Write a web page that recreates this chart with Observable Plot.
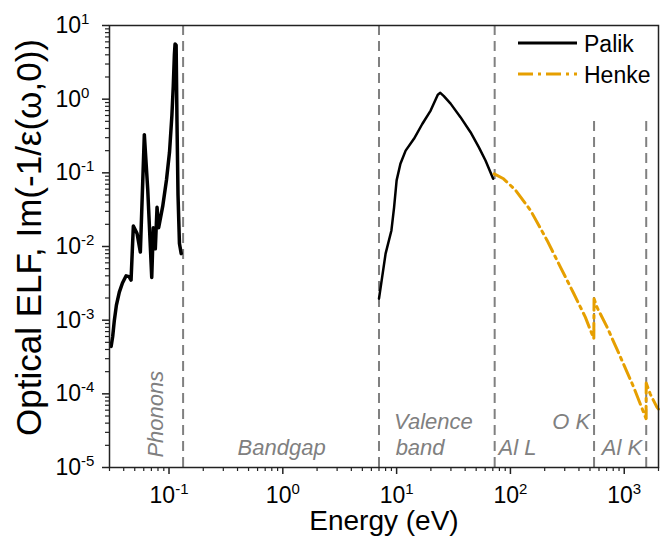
<!DOCTYPE html>
<html><head><meta charset="utf-8">
<script src="https://cdn.jsdelivr.net/npm/d3@7"></script>
<script src="https://cdn.jsdelivr.net/npm/@observablehq/plot@0.6"></script>
<style>
body{margin:0;background:#fff;}
#wrap{position:relative;width:663px;height:537px;}
#legend{position:absolute;left:0;top:0;pointer-events:none;}
</style></head><body>
<div id="wrap"></div>
<script>
// ---- data ----
const phononE = [0.031, 0.032, 0.0331, 0.0345, 0.0366, 0.039, 0.042, 0.0445, 0.0464, 0.0486, 0.0524, 0.056, 0.0607, 0.065, 0.0705, 0.0728, 0.0758, 0.0785, 0.0811, 0.088, 0.095, 0.101, 0.106, 0.109, 0.1115, 0.113, 0.1155, 0.1175, 0.120, 0.1235, 0.128];
const phononV = [4.4e-4, 6e-4, 1.0e-3, 1.6e-3, 2.4e-3, 3.2e-3, 4.0e-3, 3.9e-3, 3.5e-3, 0.019, 0.015, 8.4e-3, 0.33, 0.06, 3.8e-3, 0.018, 9.3e-3, 0.034, 0.018, 0.035, 0.08, 0.19, 0.6, 1.5, 4.0, 5.6, 5.4, 0.5, 0.05, 0.011, 8e-3];

const valenceE = [7.0, 8.0, 9.0, 9.5, 10, 10.8, 12, 14.2, 16.8, 19.9, 23, 24.2, 26, 29.8, 36.4, 44.6, 52.7, 60.4, 70.5];
const valenceV = [1.96e-3, 8e-3, 0.0165, 0.034, 0.079, 0.133, 0.2, 0.29, 0.46, 0.70, 1.15, 1.22, 1.1, 0.87, 0.57, 0.356, 0.223, 0.147, 0.083];

const henkeE = [72, 87, 110, 150, 210, 275, 360, 455, 540, 543, 576, 705, 923, 1208, 1555, 1560, 1690, 1936, 2000];
const henkeV = [0.097, 0.083, 0.059, 0.031, 0.0121, 5.25e-3, 2.3e-3, 1.1e-3, 5.6e-4, 1.96e-3, 1.5e-3, 8.1e-4, 3.2e-4, 1.24e-4, 4.6e-5, 1.4e-4, 1.0e-4, 6.6e-5, 6.2e-5];

const edgeE = [0.133, 7, 72.7, 543, 1560];
const edgeTop = [10, 10, 10, 0.6, 0.6];

const regionText = ["Phonons", "Bandgap", "Valence", "band", "Al L", "O K", "Al K"];
const regionE = [0.077, 0.40, 9.5, 9.8, 78.5, 503, 1438];
const regionV = [5.3e-5, 1.82e-5, 4.1e-5, 1.82e-5, 1.82e-5, 4.1e-5, 1.82e-5];
const regionAlign = ["rot", "start", "start", "start", "start", "end", "end"];

const xMajor = [0.1, 1, 10, 100, 1000];
const yMajor = [1e-5, 1e-4, 1e-3, 1e-2, 1e-1, 1, 10];
const seriesNames = ["Palik", "Henke"];
const xTitle = "Energy (eV)";
const yTitle = "Optical ELF, Im(-1/ε(ω,0))";

// ---- build tables ----
const phonon = phononE.map((E, i) => ({E, V: phononV[i]}));
const valence = valenceE.map((E, i) => ({E, V: valenceV[i]}));
const henke = henkeE.map((E, i) => ({E, V: henkeV[i]}));
const edges = edgeE.map((E, i) => ({E, top: edgeTop[i]}));
const regions = regionText.map((t, i) => ({t, E: regionE[i], V: regionV[i], a: regionAlign[i]}));
const xMinor = [], yMinor = [];
for (let p = -2; p <= 3; p++) for (let m = 2; m <= 9; m++) { const v = m * 10 ** p; if (v >= 0.03 && v <= 2000) xMinor.push(v); }
for (let p = -5; p <= 0; p++) for (let m = 2; m <= 9; m++) yMinor.push(m * 10 ** p);

const font = "'Liberation Sans', Arial, sans-serif";
const fmt = d => "10^" + Math.round(Math.log10(d));
const gray = "#808080";
const orange = "#E69F00";

const regionStyle = {x: "E", y: "V", text: "t", fill: gray, fontStyle: "italic", fontSize: 22};

const plot = Plot.plot({
  width: 663, height: 537,
  marginLeft: 109, marginRight: 5, marginTop: 25, marginBottom: 70,
  style: {fontFamily: font, background: "white", color: "#222"},
  x: {type: "log", domain: [0.03, 2000]},
  y: {type: "log", domain: [1e-5, 10]},
  marks: [
    Plot.ruleX(edges, {x: "E", y1: 1e-5, y2: "top", stroke: gray, strokeWidth: 2, strokeDasharray: "10,6"}),
    Plot.line(phonon, {x: "E", y: "V", stroke: "black", strokeWidth: 3.5}),
    Plot.line(valence, {x: "E", y: "V", stroke: "black", strokeWidth: 2.5}),
    Plot.line(henke, {x: "E", y: "V", stroke: orange, strokeWidth: 3, strokeDasharray: "15,5,3,5"}),
    Plot.text(regions.filter(d => d.a === "rot"), {...regionStyle, rotate: -90}),
    Plot.text(regions.filter(d => d.a === "start"), {...regionStyle, textAnchor: "start"}),
    Plot.text(regions.filter(d => d.a === "end"), {...regionStyle, textAnchor: "end"}),
    Plot.frame({stroke: "#222", strokeWidth: 1.5}),
    Plot.axisX(xMinor, {tickSize: 4, tickFormat: () => "", label: null, strokeWidth: 1.2}),
    Plot.axisX(xMajor, {tickSize: 7, tickPadding: 12, tickFormat: fmt, fontSize: 23, label: null, strokeWidth: 1.5, fill: "black"}),
    Plot.axisY(yMinor, {tickSize: 4, tickFormat: () => "", label: null, strokeWidth: 1.2}),
    Plot.axisY(yMajor, {tickSize: 7, tickPadding: 47, textAnchor: "start", tickFormat: fmt, fontSize: 23, label: null, strokeWidth: 1.5, fill: "black"}),
    Plot.text([xTitle], {text: d => d, frameAnchor: "bottom", textAnchor: "middle", lineAnchor: "middle", dy: 54, fontSize: 28, fill: "black"}),
    Plot.text([yTitle], {text: d => d, frameAnchor: "left", textAnchor: "middle", lineAnchor: "middle", rotate: -90, dx: -80, dy: -9, fontSize: 35, fill: "black"})
  ]
});

// superscript exponents on tick labels
d3.select(plot).selectAll('g[aria-label="x-axis tick label"] text, g[aria-label="y-axis tick label"] text').each(function () {
  const t = this.textContent;
  if (!t.startsWith("10^")) return;
  const exp = t.slice(3);
  const s = d3.select(this);
  s.text(null);
  s.append("tspan").text("10");
  s.append("tspan").attr("dy", -9).attr("font-size", 15).text(exp);
});

const wrap = document.getElementById("wrap");
wrap.appendChild(plot);

// legend overlay
const leg = d3.select(wrap).append("svg").attr("id", "legend").attr("width", 663).attr("height", 120)
  .style("font-family", font);
const legStroke = [{c: "black", d: null}, {c: orange, d: "15,5,3,5"}];
seriesNames.forEach((name, i) => {
  const y = 43 + i * 31;
  leg.append("line").attr("x1", 518).attr("x2", 577).attr("y1", y).attr("y2", y)
    .attr("stroke", legStroke[i].c).attr("stroke-width", 3).attr("stroke-dasharray", legStroke[i].d);
  leg.append("text").attr("x", 584).attr("y", y + 9).attr("font-size", 23).attr("fill", "black").text(name);
});
</script>
</body></html>
